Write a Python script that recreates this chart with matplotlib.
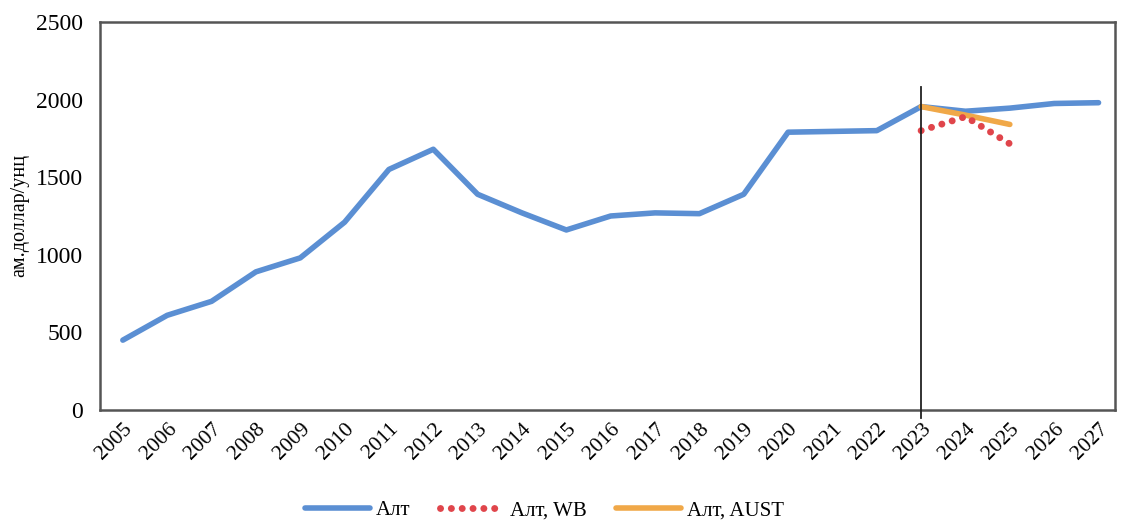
import matplotlib.pyplot as plt

plt.rcParams['font.family'] = ['Liberation Serif', 'DejaVu Serif']

# -------- data --------
years = list(range(2005, 2028))
gold = [450, 610, 700, 890, 980, 1210, 1550, 1680, 1390, 1270, 1160, 1250,
        1270, 1265, 1390, 1790, 1795, 1800, 1955, 1925, 1945, 1975, 1980]

wb_years = [2023, 2024, 2025]
wb = [1800, 1890, 1715]

aust_years = [2023, 2024, 2025]
aust = [1955, 1900, 1840]

forecast_start = 2023
yticks = [0, 500, 1000, 1500, 2000, 2500]

# -------- plot --------
fig = plt.figure(figsize=(11.21, 5.24), dpi=100)
ax = fig.add_axes([0.089, 0.2176, 0.906, 0.7404])

ax.plot(years, gold, color="#5B8FD3", lw=4, solid_joinstyle="round",
        solid_capstyle="round", label="Алт", zorder=3)
ax.plot(wb_years, wb, color="#E0454B", lw=5, ls=(0, (0.01, 1.55)),
        dash_capstyle="round", label="Алт, WB", zorder=5)
ax.plot(aust_years, aust, color="#F0A848", lw=4, solid_capstyle="round",
        label="Алт, AUST", zorder=4)

ax.axvline(forecast_start, ymin=-0.02, ymax=0.832, color="#222222", lw=1.3,
           clip_on=False, zorder=6)

ax.set_xlim(2004.48, 2027.38)
ax.set_ylim(0, 2500)
ax.set_xticks(years)
ax.set_xticklabels([str(y) for y in years], rotation=45, ha="right",
                   rotation_mode="anchor", fontsize=15.5)
ax.set_yticks(yticks)
ax.set_yticklabels([str(v) for v in yticks], fontsize=17)
ax.tick_params(axis="y", length=0, pad=12)
ax.tick_params(axis="x", length=0, pad=7)
ax.set_ylabel("ам.доллар/унц", fontsize=14.5, labelpad=5)

for s in ax.spines.values():
    s.set_color("#555555")
    s.set_linewidth(1.8)

ax.legend(loc="upper center", bbox_to_anchor=(0.438, -0.185), ncol=3,
          frameon=False, fontsize=15, handlelength=3.1, columnspacing=1.4,
          handletextpad=0.3)

fig.savefig("out.png", dpi=100)
